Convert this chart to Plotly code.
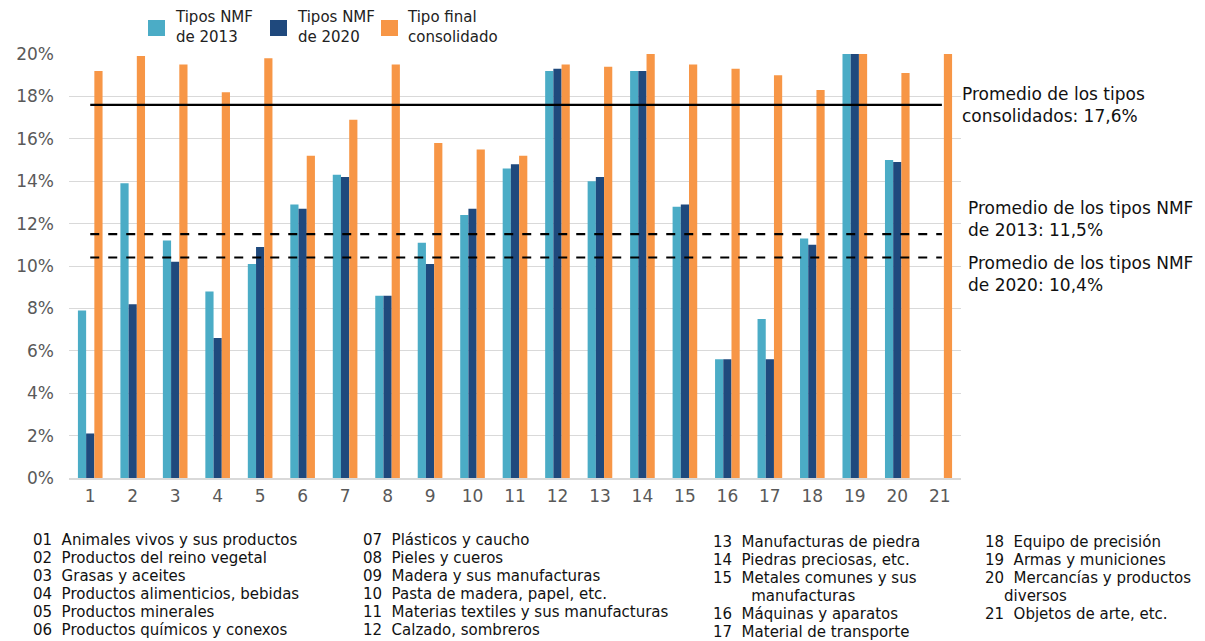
import plotly.graph_objects as go

categories = list(range(1, 22))
nmf_2013 = [7.9, 13.9, 11.2, 8.8, 10.1, 12.9, 14.3, 8.6, 11.1, 12.4, 14.6,
            19.2, 14.0, 19.2, 12.8, 5.6, 7.5, 11.3, 20.0, 15.0, None]
nmf_2020 = [2.1, 8.2, 10.2, 6.6, 10.9, 12.7, 14.2, 8.6, 10.1, 12.7, 14.8,
            19.3, 14.2, 19.2, 12.9, 5.6, 5.6, 11.0, 20.0, 14.9, None]
consolidado = [19.2, 19.9, 19.5, 18.2, 19.8, 15.2, 16.9, 19.5, 15.8, 15.5, 15.2,
               19.5, 19.4, 20.0, 19.5, 19.3, 19.0, 18.3, 20.0, 19.1, 20.0]
series_names = ["Tipos NMF<br>de 2013", "Tipos NMF<br>de 2020", "Tipo final<br>consolidado"]
avg_consolidado = 17.6
avg_2013 = 11.5
avg_2020 = 10.4
avg_labels = ["Promedio de los tipos<br>consolidados: 17,6%",
              "Promedio de los tipos NMF<br>de 2013: 11,5%",
              "Promedio de los tipos NMF<br>de 2020: 10,4%"]
col1 = ["01&nbsp; Animales vivos y sus productos", "02&nbsp; Productos del reino vegetal",
        "03&nbsp; Grasas y aceites", "04&nbsp; Productos alimenticios, bebidas",
        "05&nbsp; Productos minerales", "06&nbsp; Productos químicos y conexos"]
col2 = ["07&nbsp; Plásticos y caucho", "08&nbsp; Pieles y cueros",
        "09&nbsp; Madera y sus manufacturas", "10&nbsp; Pasta de madera, papel, etc.",
        "11&nbsp; Materias textiles y sus manufacturas", "12&nbsp; Calzado, sombreros"]
col3 = ["13&nbsp; Manufacturas de piedra", "14&nbsp; Piedras preciosas, etc.",
        "15&nbsp; Metales comunes y sus",
        "&nbsp;&nbsp;&nbsp;&nbsp;&nbsp;&nbsp;&nbsp; manufacturas",
        "16&nbsp; Máquinas y aparatos", "17&nbsp; Material de transporte"]
col4 = ["18&nbsp; Equipo de precisión", "19&nbsp; Armas y municiones",
        "20&nbsp; Mercancías y productos", "&nbsp;&nbsp;&nbsp; diversos",
        "21&nbsp; Objetos de arte, etc."]

colors = ["#4bacc6", "#1f497d", "#f79646"]
FONT = "DejaVu Sans, Verdana, sans-serif"
OFF = 8  # page body margin
W, H = 1205 - OFF, 641 - OFF
# plot area in reference pixels: x 69..961, y 54..478
L, T = 69 - OFF, 54 - OFF
R = W - (961 - OFF)
B = H - (478 - OFF)
PW = W - L - R
PH = H - T - B


def px(x):
    return (x - OFF - L) / PW


def py(y):
    return 1 - (y - OFF - T) / PH


fig = go.Figure()
for name, vals, c in zip(series_names, [nmf_2013, nmf_2020, consolidado], colors):
    fig.add_trace(go.Bar(x=categories, y=vals, name=name, marker_color=c,
                         marker_line_width=0, showlegend=False))

# manual legend (keys + labels)
for name, c, sx, tx in zip(series_names, colors, [148, 270, 381], [173, 295, 405]):
    fig.add_shape(type="rect", xref="paper", yref="paper",
                  x0=px(sx), x1=px(sx + 17), y0=py(36), y1=py(20),
                  fillcolor=c, line_width=0)
    fig.add_annotation(x=px(tx), xref="paper", y=py(27), yref="paper", text=name,
                       showarrow=False, xanchor="left", yanchor="middle", align="left",
                       font=dict(family=FONT, size=15, color="#222"))

for v, dash in [(avg_consolidado, "solid"), (avg_2013, "dash"), (avg_2020, "dash")]:
    fig.add_shape(type="line", xref="x", yref="y", x0=1, x1=21.05, y0=v, y1=v,
                  line=dict(color="black", width=2.2, dash=dash))

fig.add_annotation(x=px(960), xref="paper", y=avg_consolidado, yref="y",
                   text=avg_labels[0], showarrow=False, xanchor="left", yanchor="middle",
                   align="left", font=dict(family=FONT, size=17, color="#111"))
fig.add_annotation(x=px(966), xref="paper", y=avg_2013, yref="y", yshift=15,
                   text=avg_labels[1], showarrow=False, xanchor="left", yanchor="middle",
                   align="left", font=dict(family=FONT, size=17, color="#111"))
fig.add_annotation(x=px(966), xref="paper", y=avg_2020, yref="y", yshift=-16,
                   text=avg_labels[2], showarrow=False, xanchor="left", yanchor="middle",
                   align="left", font=dict(family=FONT, size=17, color="#111"))

for col, xpix, y0 in [(col1, 31, 540), (col2, 361, 540), (col3, 711, 542), (col4, 983, 542)]:
    for i, line in enumerate(col):
        fig.add_annotation(x=px(xpix), xref="paper", y=py(y0 + 18 * i), yref="paper",
                           text=line, showarrow=False, xanchor="left",
                           yanchor="middle", align="left",
                           font=dict(family=FONT, size=15, color="#111"))

fig.update_layout(
    width=W, height=H,
    margin=dict(l=L, r=R, t=T, b=B, autoexpand=False),
    paper_bgcolor="white", plot_bgcolor="white",
    barmode="group", bargap=0.42, bargroupgap=0,
    font=dict(family=FONT, color="#595959"),
    showlegend=False,
    xaxis=dict(range=[0.5, 21.5], tickmode="array", tickvals=categories,
               ticktext=[str(c) for c in categories], showgrid=False,
               showline=True, linecolor="#d9d9d9", linewidth=1.5,
               tickfont=dict(size=17, color="#595959"), ticks="",
               ticklabelstandoff=2),
    yaxis=dict(range=[0, 20], dtick=2, ticksuffix="%", showgrid=True,
               gridcolor="#d9d9d9", gridwidth=1, zeroline=False,
               tickfont=dict(size=17, color="#595959"), ticks="",
               ticklabelstandoff=14),
)

fig.write_html("out.html")
